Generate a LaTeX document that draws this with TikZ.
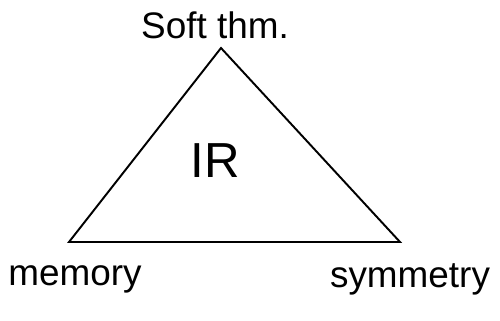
\documentclass[tikz,border=0pt]{standalone}
\usepackage{fontspec}
\setmainfont{Liberation Sans}
\usepackage{tikz}
\usetikzlibrary{positioning}
\tikzset{
  tri-edge/.style={draw=black,line width=1.1pt,line join=miter},
  corner-label/.style={font=\fontsize{21}{24}\selectfont,inner sep=0pt},
  center-label/.style={font=\fontsize{28}{32}\selectfont,inner sep=0pt},
}

\begin{document}
\begin{tikzpicture}
  \useasboundingbox (0,0) rectangle (10,-6.42);
  \coordinate (apex) at (4.42,-0.96);
  \coordinate (left) at (1.38,-4.84);
  \coordinate (right) at (8.0,-4.84);
  \draw[tri-edge] (apex) -- (left) -- (right) -- cycle;
  \node[corner-label] (soft) at (4.3,-0.5) {Soft thm.};
  \node[center-label] (ir) at (4.3,-3.22) {IR};
  \node[corner-label] (memory) at (1.5,-5.58) {memory};
  \node[corner-label] (symmetry) at (8.2,-5.58) {symmetry};
\end{tikzpicture}
\end{document}
